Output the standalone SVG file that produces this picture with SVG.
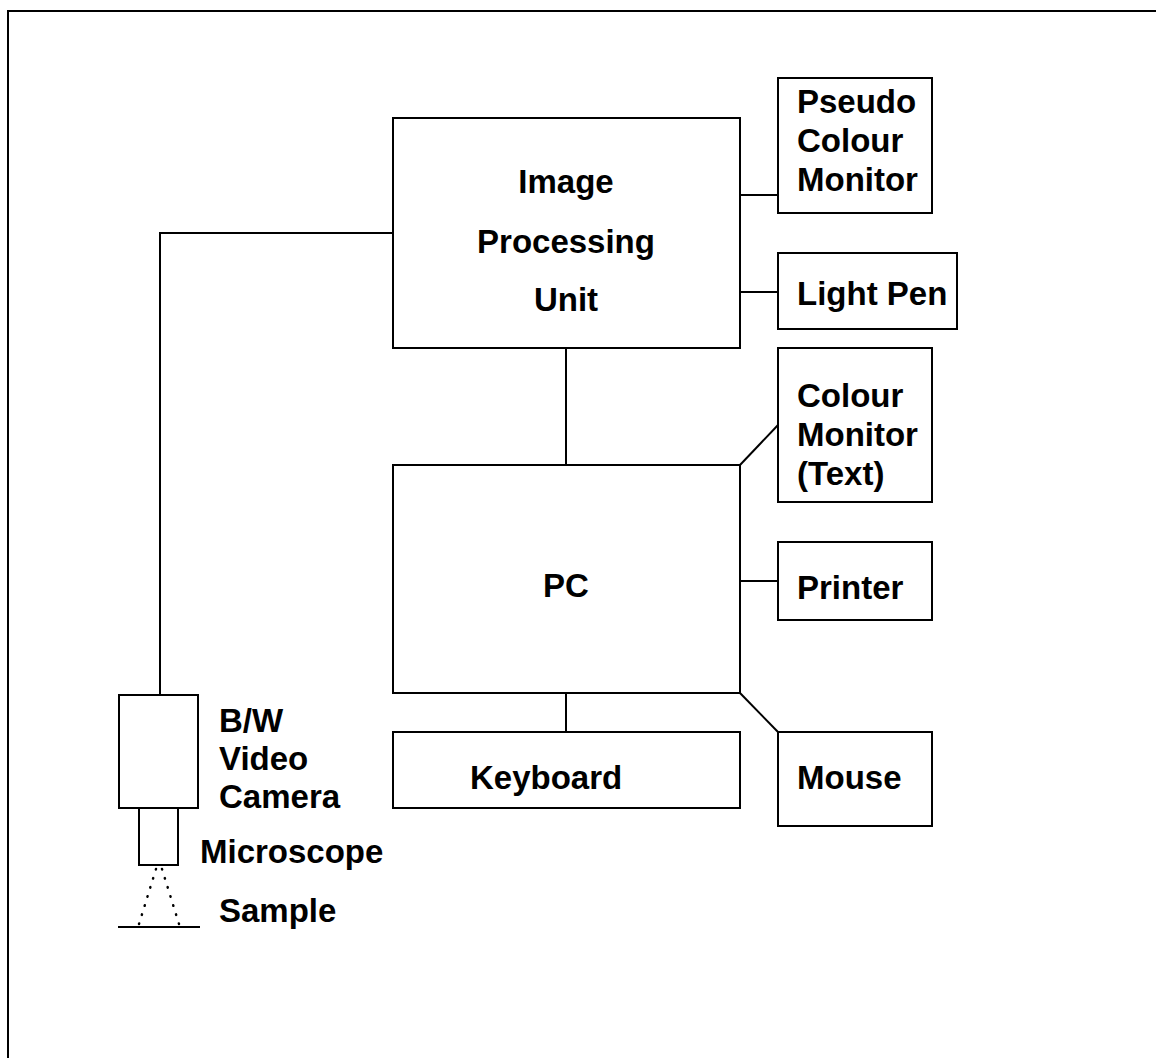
<svg xmlns="http://www.w3.org/2000/svg" width="1156" height="1058" viewBox="0 0 1156 1058">
<style>
.box{fill:#fff;stroke:#000;stroke-width:2}
.ln{fill:none;stroke:#000;stroke-width:2}
.dot{fill:none;stroke:#000;stroke-width:2.5;stroke-dasharray:0.5,9;stroke-linecap:round}
.t{font-family:"Liberation Sans",Arial,sans-serif;font-weight:bold;font-size:33px;fill:#000}
.c{text-anchor:middle}
</style>
<rect width="1156" height="1058" fill="#fff"/>
<g id="frame"><path class="ln" d="M1156,11 H8 V1058" stroke-width="3"/></g>
<g id="connectors">
<path class="ln" d="M393,233 H160 V695"/>
<path class="ln" d="M740,195 H778"/>
<path class="ln" d="M740,292 H778"/>
<path class="ln" d="M566,348 V465"/>
<path class="ln" d="M740,465 L778,425"/>
<path class="ln" d="M740,581 H778"/>
<path class="ln" d="M566,693 V732"/>
<path class="ln" d="M740,693 L778,732"/>
</g>
<g id="ipu"><rect class="box" x="393" y="118" width="347" height="230"/>
<text class="t c" x="566" y="193">Image</text><text class="t c" x="566" y="253">Processing</text><text class="t c" x="566" y="311">Unit</text></g>
<g id="pseudo"><rect class="box" x="778" y="78" width="154" height="135"/>
<text class="t" x="797" y="113">Pseudo</text><text class="t" x="797" y="152">Colour</text><text class="t" x="797" y="191">Monitor</text></g>
<g id="lightpen"><rect class="box" x="778" y="253" width="179" height="76"/>
<text class="t" x="797" y="305">Light Pen</text></g>
<g id="pc"><rect class="box" x="393" y="465" width="347" height="228"/>
<text class="t c" x="566" y="597">PC</text></g>
<g id="colourmon"><rect class="box" x="778" y="348" width="154" height="154"/>
<text class="t" x="797" y="407">Colour</text><text class="t" x="797" y="446">Monitor</text><text class="t" x="797" y="485">(Text)</text></g>
<g id="printer"><rect class="box" x="778" y="542" width="154" height="78"/>
<text class="t" x="797" y="599">Printer</text></g>
<g id="keyboard"><rect class="box" x="393" y="732" width="347" height="76"/>
<text class="t" x="470" y="789">Keyboard</text></g>
<g id="mouse"><rect class="box" x="778" y="732" width="154" height="94"/>
<text class="t" x="797" y="789">Mouse</text></g>
<g id="camera"><rect class="box" x="119" y="695" width="79" height="113"/>
<text class="t" x="219" y="732">B/W</text><text class="t" x="219" y="770">Video</text><text class="t" x="219" y="808">Camera</text></g>
<g id="microscope"><rect class="box" x="139" y="808" width="39" height="57"/>
<text class="t" x="200" y="863">Microscope</text></g>
<g id="sample">
<path class="dot" d="M156,869 L139,924 M162,869 L179,924"/>
<path class="ln" d="M118,927 H200"/>
<text class="t" x="219" y="922">Sample</text></g>
</svg>
